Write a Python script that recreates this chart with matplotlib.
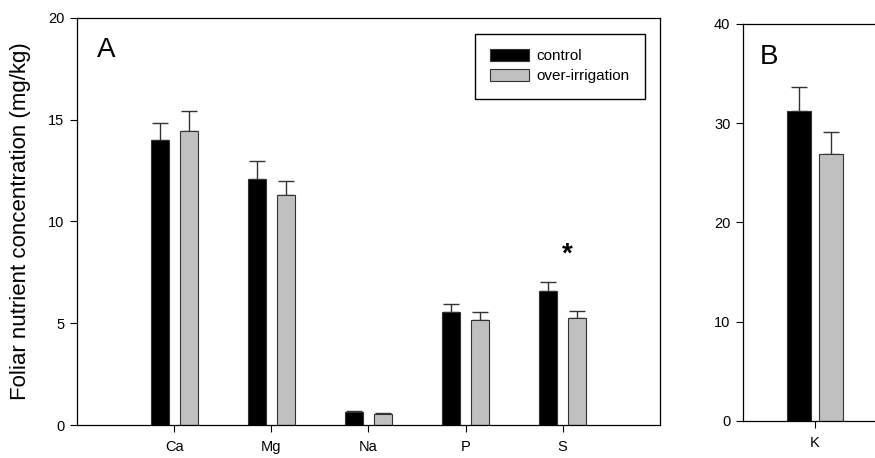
import matplotlib
matplotlib.use("Agg")
from matplotlib import pyplot as plt
import numpy as np

plt.rcParams['font.family'] = ['Liberation Sans', 'DejaVu Sans']

# panel A data
nutrientes = ["Ca", "Mg", "Na", "P", "S"]
control = [14.0, 12.1, 0.62, 5.57, 6.58]
control_err = [0.86, 0.85, 0.07, 0.39, 0.46]
riego = [14.45, 11.29, 0.52, 5.18, 5.26]
riego_err = [0.98, 0.70, 0.08, 0.36, 0.33]

# panel B data
nutriente_b = ["K"]
control_b = [31.2]
control_b_err = [2.45]
riego_b = [26.9]
riego_b_err = [2.25]

negro = "black"
gris = "#c0c0c0"
borde = "#333333"

fig = plt.figure(figsize=(8.75, 4.58), dpi=100)
axA = fig.add_axes([0.088, 0.072, 0.666, 0.889])
axB = fig.add_axes([0.849, 0.081, 0.165, 0.867])

x = np.arange(len(nutrientes))
ancho = 0.185
desp = 0.15
axA.bar(x - desp, control, ancho, color=negro, edgecolor=borde, linewidth=0.8,
        label="control", zorder=2)
axA.bar(x + desp, riego, ancho, color=gris, edgecolor=borde, linewidth=0.8,
        label="over-irrigation", zorder=2)
axA.errorbar(x - desp, control, yerr=[np.zeros(len(x)), control_err], fmt="none",
             ecolor=borde, elinewidth=1, capsize=6, capthick=1, zorder=1)
axA.errorbar(x + desp, riego, yerr=[np.zeros(len(x)), riego_err], fmt="none",
             ecolor=borde, elinewidth=1, capsize=6, capthick=1, zorder=1)
axA.set_xlim(-1, 5)
axA.set_ylim(0, 20)
axA.set_yticks([0, 5, 10, 15, 20])
axA.set_xticks(x)
axA.set_xticklabels(nutrientes)
axA.tick_params(direction="out", length=5, width=0.8, labelsize=10.5, pad=4)
axA.tick_params(axis="x", pad=6)
axA.set_ylabel("Foliar nutrient concentration (mg/kg)", fontsize=16, labelpad=12)
axA.text(0.035, 0.905, "A", transform=axA.transAxes, fontsize=20)
axA.text(4.05, 7.75, "*", fontsize=20, fontweight="bold", ha="center", va="bottom")
axA.legend(loc="upper right", bbox_to_anchor=(0.974, 0.961), fancybox=False,
           edgecolor="black", framealpha=1, fontsize=11, handlelength=2.5,
           handleheight=0.8, borderpad=1.0, labelspacing=0.4, handletextpad=0.5,
           borderaxespad=0)
for s in axA.spines.values():
    s.set_linewidth(0.9)

xb = np.arange(len(nutriente_b))
axB.bar(xb - 0.22, control_b, 0.33, color=negro, edgecolor=borde, linewidth=0.8, zorder=2)
axB.bar(xb + 0.22, riego_b, 0.33, color=gris, edgecolor=borde, linewidth=0.8, zorder=2)
axB.errorbar(xb - 0.22, control_b, yerr=[[0], control_b_err], fmt="none",
             ecolor=borde, elinewidth=1, capsize=6, capthick=1, zorder=1)
axB.errorbar(xb + 0.22, riego_b, yerr=[[0], riego_b_err], fmt="none",
             ecolor=borde, elinewidth=1, capsize=6, capthick=1, zorder=1)
axB.set_xlim(-1, 1)
axB.set_ylim(0, 40)
axB.set_yticks([0, 10, 20, 30, 40])
axB.set_xticks(xb)
axB.set_xticklabels(nutriente_b)
axB.tick_params(direction="out", length=5, width=0.8, labelsize=10.5, pad=4)
axB.tick_params(axis="x", pad=6)
axB.text(0.12, 0.9, "B", transform=axB.transAxes, fontsize=20)
axB.spines["right"].set_visible(False)
for s in axB.spines.values():
    s.set_linewidth(0.9)

fig.savefig("out.png", dpi=100)
